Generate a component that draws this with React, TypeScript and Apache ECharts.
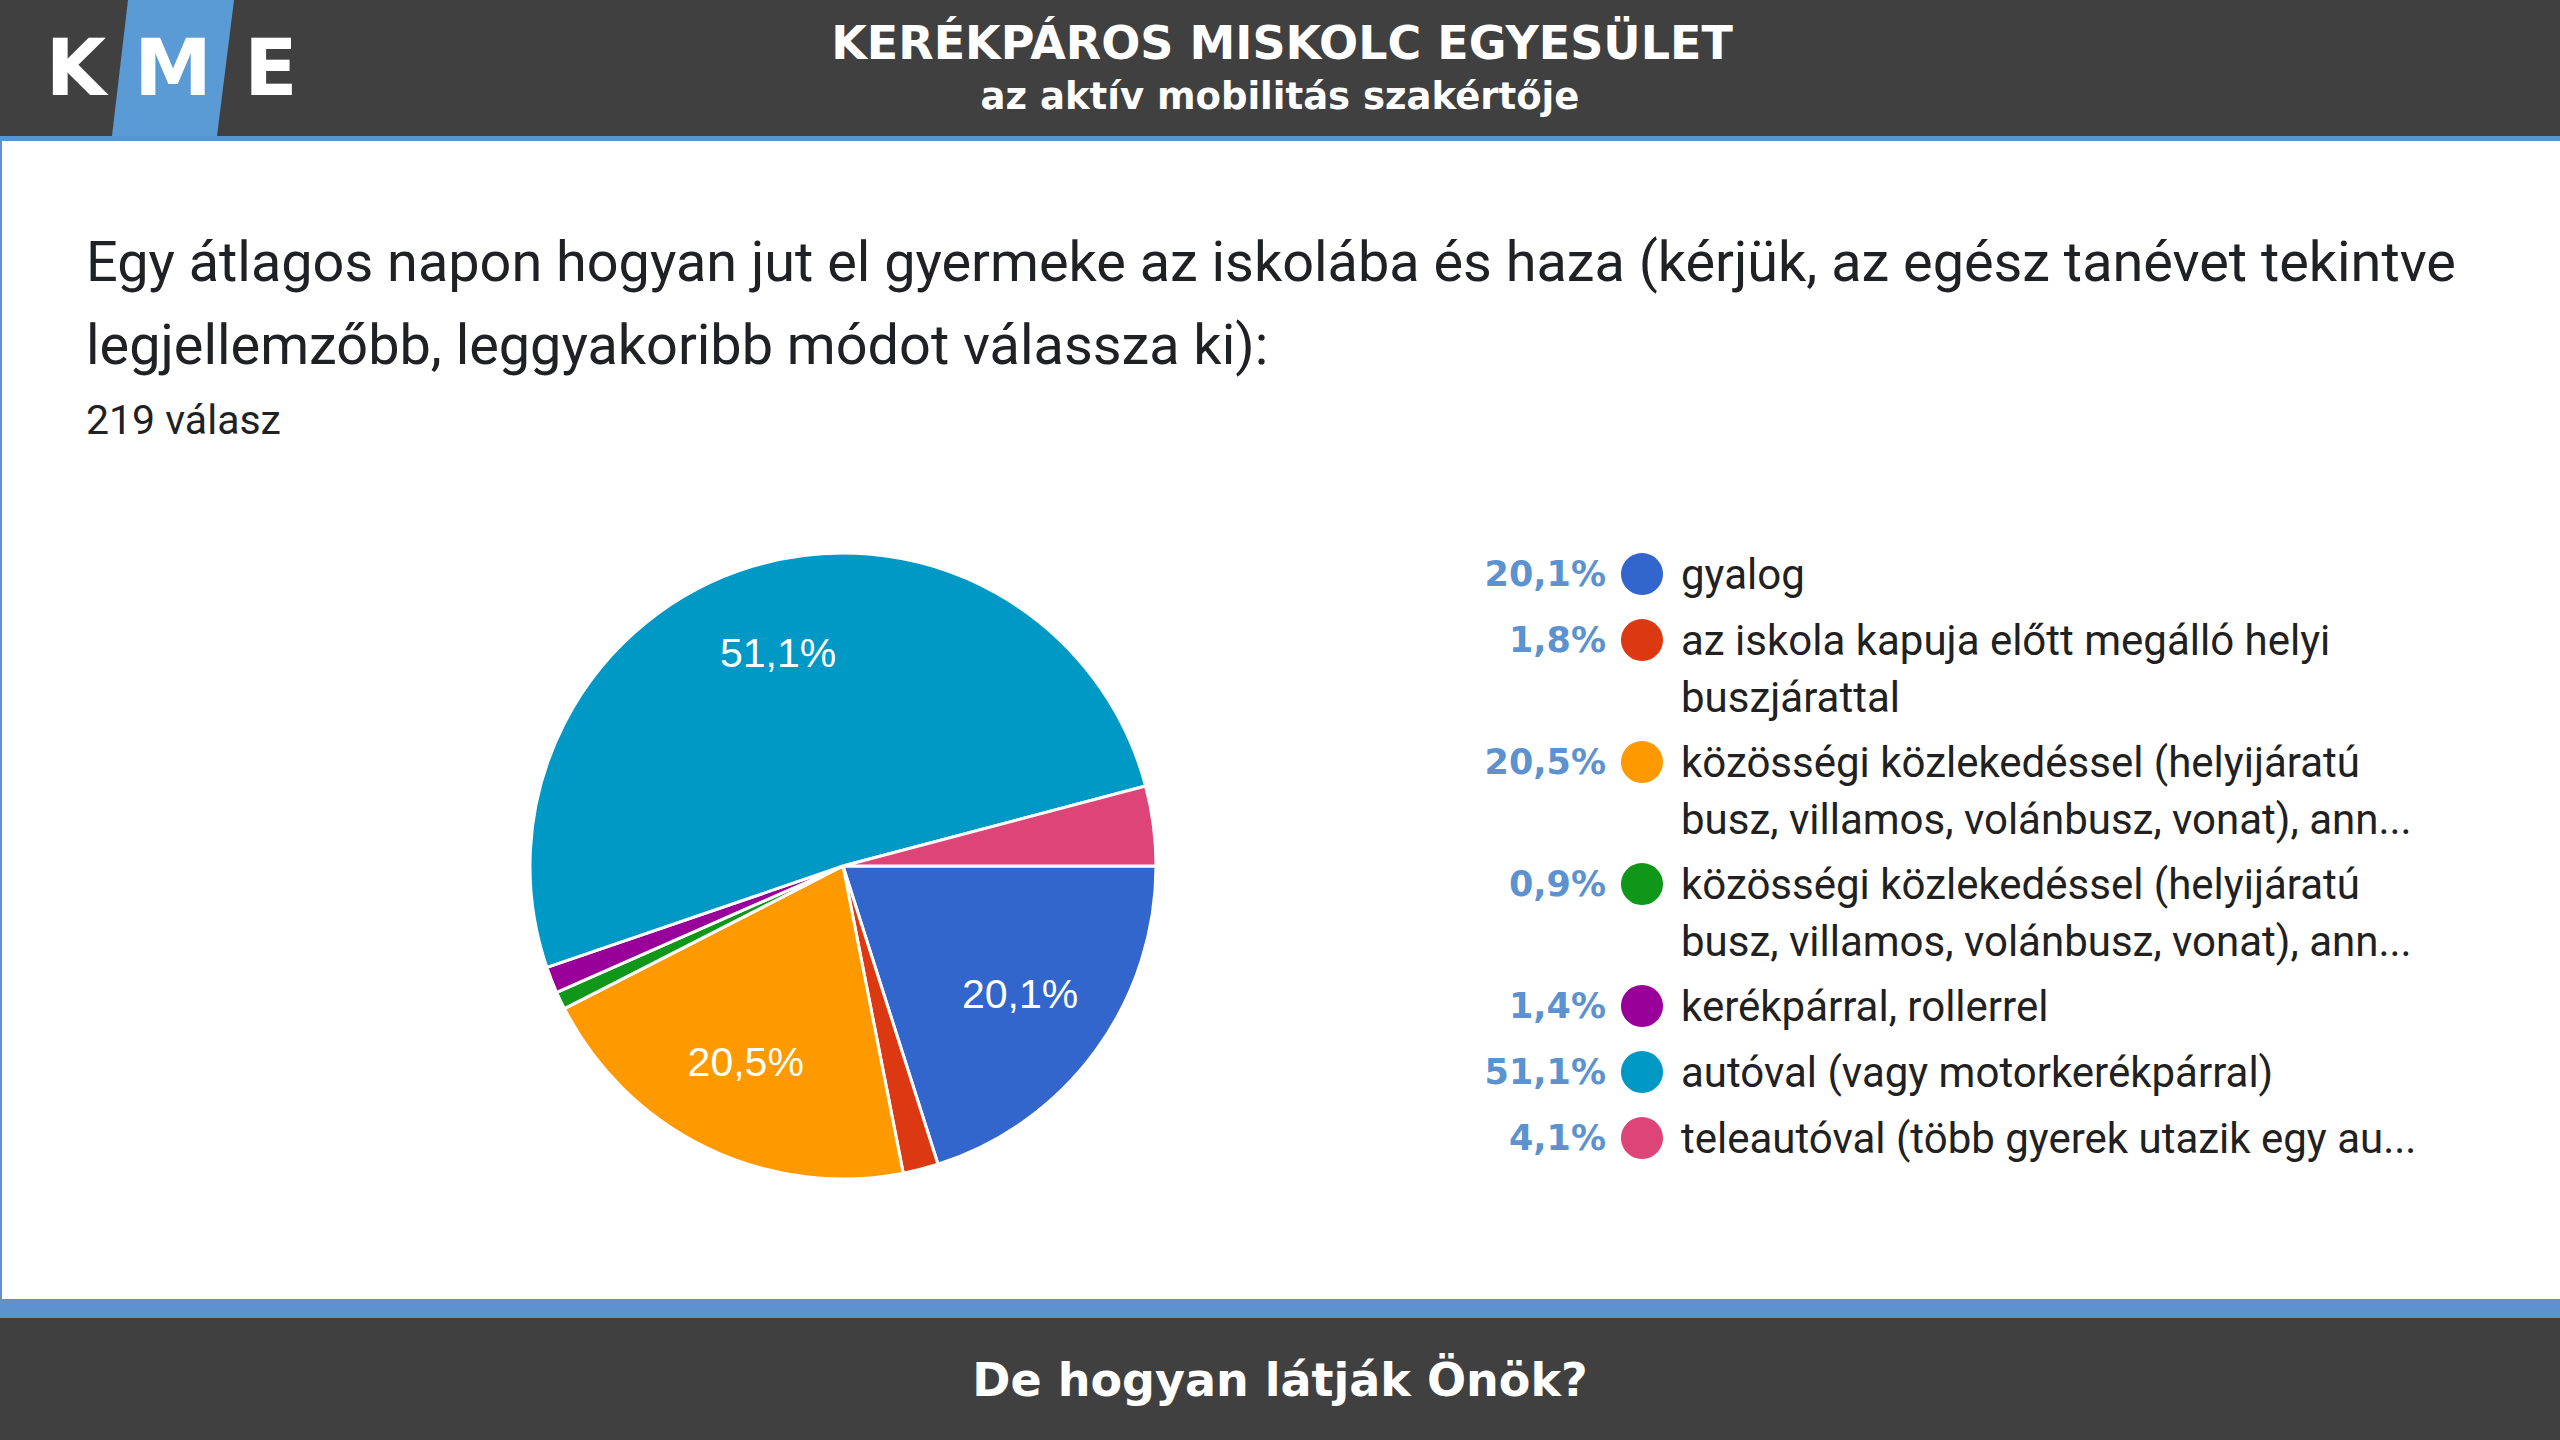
import React, { useEffect, useRef } from 'react';
import * as echarts from 'echarts';

const categories = [
  'gyalog',
  'az iskola kapuja előtt megálló helyi buszjárattal',
  'közösségi közlekedéssel (helyijáratú busz, villamos, volánbusz, vonat), ann... (1)',
  'közösségi közlekedéssel (helyijáratú busz, villamos, volánbusz, vonat), ann... (2)',
  'kerékpárral, rollerrel',
  'autóval (vagy motorkerékpárral)',
  'teleautóval (több gyerek utazik egy au...',
];
const legendLines = [
  ['gyalog'],
  ['az iskola kapuja előtt megálló helyi', 'buszjárattal'],
  ['közösségi közlekedéssel (helyijáratú', 'busz, villamos, volánbusz, vonat), ann...'],
  ['közösségi közlekedéssel (helyijáratú', 'busz, villamos, volánbusz, vonat), ann...'],
  ['kerékpárral, rollerrel'],
  ['autóval (vagy motorkerékpárral)'],
  ['teleautóval (több gyerek utazik egy au...'],
];
const counts = [44, 4, 45, 2, 3, 112, 9];
const colors = ['#3366cc', '#dc3912', '#ff9900', '#109618', '#990099', '#0099c6', '#dd4477'];

const headerTitle = 'KERÉKPÁROS MISKOLC EGYESÜLET';
const headerSubtitle = 'az aktív mobilitás szakértője';
const questionLines = [
  'Egy átlagos napon hogyan jut el gyermeke az iskolába és haza (kérjük, az egész tanévet tekintve',
  'legjellemzőbb, leggyakoribb módot válassza ki):',
];
const responseCount = '219 válasz';
const footerText = 'De hogyan látják Önök?';
const logoLetters = ['K', 'M', 'E'];

const total = counts.reduce((a, b) => a + b, 0);
const fmtPct = (v: number) => ((v / total) * 100).toFixed(1).replace('.', ',') + '%';

export default function App() {
  const ref = useRef<HTMLDivElement>(null);
  useEffect(() => {
    document.body.style.margin = '0';
    if (!ref.current) return;
    const chart = echarts.init(ref.current, null, { renderer: 'svg' });

    const DARK = '#404040';
    const BLUE = '#5b92cf';
    const HFONT = '"DejaVu Sans", "Open Sans", sans-serif';
    const graphics: any[] = [];
    // header
    graphics.push({ type: 'rect', shape: { x: 0, y: 0, width: 2560, height: 136 }, style: { fill: DARK } });
    graphics.push({ type: 'rect', shape: { x: 0, y: 136, width: 2560, height: 5 }, style: { fill: BLUE } });
    graphics.push({
      type: 'polygon',
      shape: { points: [[128, 0], [234, 0], [217, 136], [112, 136]] },
      style: { fill: '#5b9bd5' },
    });
    const letterX = [76, 173, 271];
    logoLetters.forEach((l, i) => {
      graphics.push({
        type: 'text',
        style: {
          text: l, x: letterX[i], y: 68, fill: '#ffffff',
          font: `bold 78px ${HFONT}`, textAlign: 'center', textVerticalAlign: 'middle',
        },
      });
    });
    graphics.push({
      type: 'text',
      style: {
        text: headerTitle, x: 1282, y: 43, fill: '#ffffff',
        font: `bold 46px ${HFONT}`, textAlign: 'center', textVerticalAlign: 'middle',
      },
    });
    graphics.push({
      type: 'text',
      style: {
        text: headerSubtitle, x: 1280, y: 96, fill: '#ffffff',
        font: `bold 37px ${HFONT}`, textAlign: 'center', textVerticalAlign: 'middle',
      },
    });
    // left border
    graphics.push({ type: 'rect', shape: { x: 0, y: 141, width: 2, height: 1158 }, style: { fill: BLUE } });
    // footer
    graphics.push({ type: 'rect', shape: { x: 0, y: 1299, width: 2560, height: 19 }, style: { fill: BLUE } });
    graphics.push({ type: 'rect', shape: { x: 0, y: 1318, width: 2560, height: 122 }, style: { fill: DARK } });
    graphics.push({
      type: 'text',
      style: {
        text: footerText, x: 1280, y: 1380, fill: '#ffffff',
        font: `bold 46px ${HFONT}`, textAlign: 'center', textVerticalAlign: 'middle',
      },
    });
    // question
    const qY = [262, 345];
    questionLines.forEach((q, i) => {
      graphics.push({
        type: 'text',
        style: {
          text: q, x: 86, y: qY[i], fill: '#202124',
          font: '55.8px Roboto, sans-serif', textAlign: 'left', textVerticalAlign: 'middle',
        },
      });
    });
    graphics.push({
      type: 'text',
      style: {
        text: responseCount, x: 86, y: 420, fill: '#202124',
        font: '41px Roboto, sans-serif', textAlign: 'left', textVerticalAlign: 'middle',
      },
    });
    // legend
    let rowY = 574;
    legendLines.forEach((lines, i) => {
      graphics.push({
        type: 'text',
        style: {
          text: fmtPct(counts[i]), x: 1606, y: rowY, fill: BLUE,
          font: `bold 35px ${HFONT}`, textAlign: 'right', textVerticalAlign: 'middle',
        },
      });
      graphics.push({ type: 'circle', shape: { cx: 1642, cy: rowY, r: 21 }, style: { fill: colors[i] } });
      lines.forEach((ln, k) => {
        graphics.push({
          type: 'text',
          style: {
            text: ln, x: 1681, y: rowY + k * 57, fill: '#212121',
            font: '42px Roboto, sans-serif', textAlign: 'left', textVerticalAlign: 'middle',
          },
        });
      });
      rowY += 66 + (lines.length - 1) * 56;
    });

    const data = categories.map((c, i) => ({ name: c, value: counts[i], itemStyle: { color: colors[i] } }));

    chart.setOption({
      animation: false,
      backgroundColor: '#ffffff',
      graphic: { elements: graphics },
      series: [
        {
          type: 'pie',
          center: [843, 866],
          radius: 313,
          startAngle: 0,
          clockwise: true,
          silent: true,
          data,
          label: { show: false },
          labelLine: { show: false },
          itemStyle: { borderColor: '#ffffff', borderWidth: 3 },
          emphasis: { disabled: true },
        },
        {
          type: 'pie',
          center: [842, 864],
          radius: [122, 313],
          startAngle: 0,
          clockwise: true,
          silent: true,
          z: 5,
          data: categories.map((c, i) => ({ name: c, value: counts[i] })),
          itemStyle: { color: 'rgba(0,0,0,0)', borderWidth: 0 },
          label: {
            show: true,
            position: 'inside',
            color: '#ffffff',
            fontSize: 41,
            fontFamily: '"Liberation Sans", Arial, sans-serif',
            formatter: (p: any) => (p.percent >= 5 ? fmtPct(p.value) : ''),
          },
          labelLine: { show: false },
          emphasis: { disabled: true },
        },
      ],
    });
    return () => chart.dispose();
  }, []);
  return <div ref={ref} style={{ position: 'absolute', left: 0, top: 0, width: 2560, height: 1440 }} />;
}
